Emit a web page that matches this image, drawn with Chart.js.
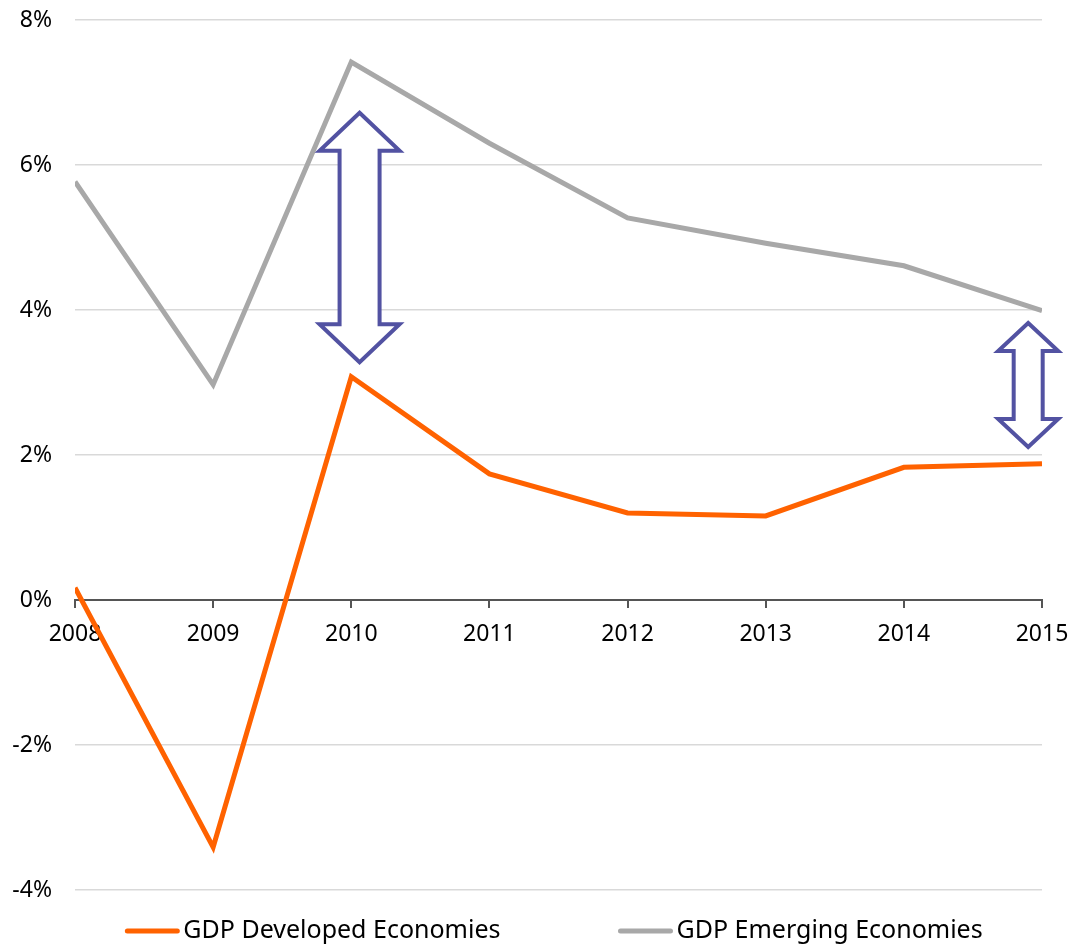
<!DOCTYPE html>
<html>
<head>
<meta charset="utf-8">
<script src="https://cdn.jsdelivr.net/npm/chart.js@4.4.1/dist/chart.umd.min.js"></script>
<style>
  body { margin: 0; background: #fff; }
  #wrap { width: 1070px; height: 944px; }
</style>
</head>
<body>
<div id="wrap"><canvas id="gdpChart"></canvas></div>
<script>
const years = [2008, 2009, 2010, 2011, 2012, 2013, 2014, 2015];
const developed = [0.17, -3.41, 3.08, 1.74, 1.20, 1.16, 1.83, 1.88];
const emerging = [5.77, 2.97, 7.42, 6.30, 5.27, 4.92, 4.61, 3.99];
const yTicks = [-4, -2, 0, 2, 4, 6, 8];

// gap arrows: x position in years, top / bottom in percent
const arrowX = [2010.06, 2014.9];
const arrowTop = [6.72, 3.82];
const arrowBottom = [3.28, 2.11];

const toPoints = vals => years.map((yr, i) => ({ x: yr, y: vals[i] }));

const gapArrows = {
  id: "gapArrows",
  afterDatasetsDraw(chart, args, opts) {
    const { ctx, scales: { x, y } } = chart;
    arrowX.forEach((ax, i) => {
      const cx = x.getPixelForValue(ax);
      const top = y.getPixelForValue(arrowTop[i]);
      const bot = y.getPixelForValue(arrowBottom[i]);
      const hw = opts.headHalf[i], sw = opts.shaftHalf[i], hl = opts.headLen[i];
      ctx.save();
      ctx.beginPath();
      ctx.moveTo(cx, top);
      ctx.lineTo(cx + hw, top + hl);
      ctx.lineTo(cx + sw, top + hl);
      ctx.lineTo(cx + sw, bot - hl);
      ctx.lineTo(cx + hw, bot - hl);
      ctx.lineTo(cx, bot);
      ctx.lineTo(cx - hw, bot - hl);
      ctx.lineTo(cx - sw, bot - hl);
      ctx.lineTo(cx - sw, top + hl);
      ctx.lineTo(cx - hw, top + hl);
      ctx.closePath();
      ctx.fillStyle = "#ffffff";
      ctx.fill();
      ctx.lineWidth = 4;
      ctx.lineJoin = "miter";
      ctx.strokeStyle = "#5252a2";
      ctx.stroke();
      ctx.restore();
    });
  }
};

const bottomLegend = {
  id: "bottomLegend",
  afterDraw(chart, args, opts) {
    const { ctx, chartArea } = chart;
    const sets = chart.data.datasets;
    ctx.save();
    ctx.font = opts.font;
    ctx.textBaseline = "middle";
    const lineW = 56, gapText = 3, gapItem = 117;
    const widths = sets.map(d => lineW + gapText + ctx.measureText(d.label).width);
    const total = widths.reduce((a, b) => a + b, 0) + gapItem * (sets.length - 1);
    let cx = (chartArea.left + chartArea.right) / 2 - total / 2 - 5;
    const cy = chart.height - 13;
    sets.forEach((d, i) => {
      ctx.strokeStyle = d.borderColor;
      ctx.lineWidth = 5;
      ctx.lineCap = "round";
      ctx.beginPath();
      ctx.moveTo(cx + 3, cy);
      ctx.lineTo(cx + lineW - 3, cy);
      ctx.stroke();
      ctx.fillStyle = "#000";
      ctx.fillText(d.label, cx + lineW + gapText, cy);
      cx += widths[i] + gapItem;
    });
    ctx.restore();
  }
};

new Chart("gdpChart", {
  type: "line",
  data: {
    datasets: [
      {
        label: "GDP Developed Economies",
        data: toPoints(developed),
        borderColor: "#ff6200",
        borderWidth: 5,
        pointRadius: 0,
        tension: 0
      },
      {
        label: "GDP Emerging Economies",
        data: toPoints(emerging),
        borderColor: "#a8a8a8",
        borderWidth: 5,
        pointRadius: 0,
        tension: 0
      }
    ]
  },
  options: {
    responsive: true,
    maintainAspectRatio: false,
    animation: false,
    layout: { padding: { top: 20, right: 28, bottom: 54, left: 0 } },
    plugins: {
      legend: { display: false },
      tooltip: { enabled: false },
      gapArrows: {
        headHalf: [40, 30],
        shaftHalf: [20, 14.5],
        headLen: [38, 28]
      },
      bottomLegend: { font: "25px 'Noto Sans'" }
    },
    scales: {
      x: {
        type: "linear",
        position: { y: 0 },
        min: 2008,
        max: 2015,
        afterFit: s => { s.paddingLeft = 0; s.paddingRight = 0; },
        border: { display: true, color: "#555555", width: 2 },
        grid: { drawOnChartArea: false, drawTicks: true, tickLength: 7, color: "#555555", lineWidth: 2 },
        ticks: {
          stepSize: 1,
          padding: 14,
          color: "#000",
          font: { family: "'Noto Sans'", size: 23 },
          callback: v => String(v)
        }
      },
      y: {
        min: -4,
        max: 8,
        afterFit: s => { s.width = 75; s.paddingTop = 0; s.paddingBottom = 0; },
        afterBuildTicks: s => { s.ticks = yTicks.map(v => ({ value: v })); },
        border: { display: false },
        grid: { color: "#d9d9d9", lineWidth: 1.5, drawTicks: false },
        ticks: {
          padding: 23,
          color: "#000",
          font: { family: "'Noto Sans'", size: 23 },
          callback: v => v + "%"
        }
      }
    }
  },
  plugins: [gapArrows, bottomLegend]
});
</script>
</body>
</html>
